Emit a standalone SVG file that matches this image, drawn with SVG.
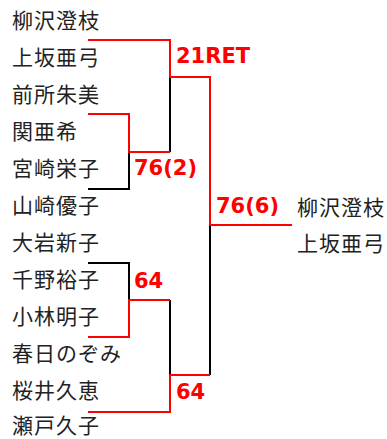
<svg xmlns="http://www.w3.org/2000/svg" width="387" height="439" viewBox="0 0 387 439">
<style>
.name{font-family:"Noto Sans CJK JP","Noto Sans CJK SC",sans-serif;font-size:21px;letter-spacing:1px;fill:#222}
.score{font-family:"DejaVu Sans",Verdana,sans-serif;font-weight:bold;font-size:21px;fill:#ff0000}
.blk{fill:none;stroke:#000;stroke-width:2}
.red{fill:none;stroke:#ff0000;stroke-width:2}
</style>
<rect width="387" height="439" fill="#fff"/>
<g id="connectors">
<polyline class="blk" points="170,77 170,152"/>
<polyline class="blk" points="88,189 129,189 129,152"/>
<polyline class="blk" points="88,263 129,263 129,300"/>
<polyline class="blk" points="170,300 170,375"/>
<polyline class="blk" points="210,225 210,375"/>
<polyline class="red" points="88,40 170,40 170,77 210,77 210,225 292,225"/>
<polyline class="red" points="88,114 129,114 129,152 170,152"/>
<polyline class="red" points="88,337 129,337 129,300 170,300"/>
<polyline class="red" points="88,412 170,412 170,375 210,375"/>
</g>
<g id="players">
<text id="p1" class="name" x="12" y="28">柳沢澄枝</text>
<text id="p2" class="name" x="12" y="65">上坂亜弓</text>
<text id="p3" class="name" x="12" y="102">前所朱美</text>
<text id="p4" class="name" x="12" y="139">関亜希</text>
<text id="p5" class="name" x="12" y="176">宮崎栄子</text>
<text id="p6" class="name" x="12" y="213">山崎優子</text>
<text id="p7" class="name" x="12" y="250">大岩新子</text>
<text id="p8" class="name" x="12" y="287">千野裕子</text>
<text id="p9" class="name" x="12" y="324">小林明子</text>
<text id="p10" class="name" x="12" y="361">春日のぞみ</text>
<text id="p11" class="name" x="12" y="398">桜井久恵</text>
<text id="p12" class="name" x="12" y="433">瀬戸久子</text>
</g>
<g id="winner">
<text class="name" x="297" y="215">柳沢澄枝</text>
<text class="name" x="297" y="251">上坂亜弓</text>
</g>
<g id="scores">
<text class="score" x="176" y="63">21RET</text>
<text class="score" x="134" y="175">76(2)</text>
<text class="score" x="216" y="213">76(6)</text>
<text class="score" x="134" y="288">64</text>
<text class="score" x="176" y="399">64</text>
</g>
</svg>
